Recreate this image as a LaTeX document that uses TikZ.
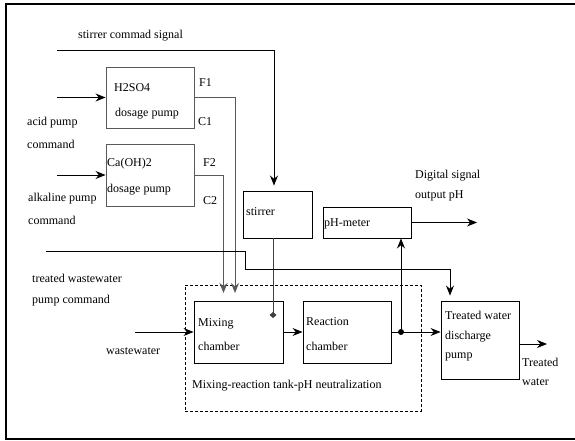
\documentclass[tikz,border=0pt]{standalone}
\usepackage{fontspec}
\setmainfont{Liberation Serif}
\usetikzlibrary{arrows.meta}
\tikzset{
  box/.style={draw=black, line width=0.9pt, inner sep=0pt},
  gbox/.style={draw=black!65, line width=0.9pt, inner sep=0pt},
  lbl/.style={anchor=base west, inner sep=0pt, font=\fontsize{12}{14}\selectfont},
  arr/.style={line width=0.9pt, -{Stealth[length=10pt,width=8pt]}},
  garr/.style={line width=0.9pt, draw=black!65, -{Stealth[length=10pt,width=8pt]}},
  dline/.style={line width=0.9pt, draw=black!75, -{Diamond[length=6pt,width=7pt]}},
}
\begin{document}
\begin{tikzpicture}[x=1pt,y=-1pt]
\useasboundingbox (0,0) rectangle (575,441);
% frame
\draw[line width=1.8pt] (576,4) -- (6,4) -- (6,439) -- (576,439);

% boxes
\node[gbox, minimum width=88pt, minimum height=61pt] (h2) at (150,97.5) {};
\node[gbox, minimum width=88pt, minimum height=62pt] (ca) at (150,175) {};
\node[box, minimum width=69pt, minimum height=47pt] (st) at (277.5,214.5) {};
\node[box, minimum width=88pt, minimum height=31pt] (ph) at (367,222.5) {};
\node[box, minimum width=89pt, minimum height=62pt] (mx) at (238.5,332) {};
\node[box, minimum width=88pt, minimum height=62pt] (rc) at (347,332) {};
\node[box, minimum width=78pt, minimum height=78pt] (dp) at (480,340) {};
\node[draw, line width=0.8pt, dash pattern=on 3pt off 2pt, inner sep=0pt,
      minimum width=236pt, minimum height=126pt] (tank) at (303,348) {};

% texts
\node[lbl] (tss) at (78,39) {stirrer commad signal};
\node[lbl] (th1) at (114,92) {H2SO4};
\node[lbl] (th2) at (115,117) {dosage pump};
\node[lbl] (tf1) at (199,87) {F1};
\node[lbl] (tc1) at (198,125) {C1};
\node[lbl] (tac1) at (27,125) {acid pump};
\node[lbl] (tac2) at (27,148) {command};
\node[lbl] (tca1) at (107,166) {Ca(OH)2};
\node[lbl] (tca2) at (107,192) {dosage pump};
\node[lbl] (tf2) at (203,166) {F2};
\node[lbl] (tc2) at (203,204) {C2};
\node[lbl] (tal1) at (28,201) {alkaline pump};
\node[lbl] (tal2) at (28,224) {command};
\node[lbl] (tst) at (246,215) {stirrer};
\node[lbl] (tph) at (324,226) {pH-meter};
\node[lbl] (tdg1) at (415,178) {Digital signal};
\node[lbl] (tdg2) at (415,198) {output pH};
\node[lbl] (ttw1) at (32,282) {treated wastewater};
\node[lbl] (ttw2) at (32,303) {pump command};
\node[lbl] (tww) at (106,354) {wastewater};
\node[lbl] (tmx1) at (198,326) {Mixing};
\node[lbl] (tmx2) at (198,350) {chamber};
\node[lbl] (trc1) at (306,325) {Reaction};
\node[lbl] (trc2) at (306,350) {chamber};
\node[lbl] (ttk) at (192,388) {Mixing-reaction tank-pH neutralization};
\node[lbl] (tdp1) at (445,319) {Treated water};
\node[lbl] (tdp2) at (445,339) {discharge};
\node[lbl] (tdp3) at (445,358) {pump};
\node[lbl] (tout1) at (522,366) {Treated};
\node[lbl] (tout2) at (522,385) {water};

% coordinates
\coordinate (ss) at (57,50);
\coordinate (a0) at (57,97.5);
\coordinate (k0) at (57,175);
\coordinate (f1e) at (235,293);
\coordinate (f2e) at (223.5,293);
\coordinate (sd) at (273,318);
\coordinate (tw0) at (46,251);
\coordinate (tw1) at (245,251);
\coordinate (tw2) at (245,269);
\coordinate (ww) at (135,332);
\coordinate (jn) at (401,332);
\coordinate (po) at (477,222.5);
\coordinate (to) at (547,344);

% connectors
\draw[arr] (ss) -| ([xshift=-3.5pt,yshift=5pt]st.north);
\draw[arr] (a0) -- (h2.west);
\draw[arr] (k0) -- (ca.west);
\draw[garr] (h2.east) -| (f1e);
\draw[garr] (ca.east) -| (f2e);
\draw[dline] ([xshift=-4.5pt]st.south) -- (sd);
\draw[arr] (tw0) -- (tw1) -- (tw2) -| ([xshift=-30pt,yshift=5pt]dp.north);
\draw[arr] (ww) -- (mx.west);
\draw[arr] (mx.east) -- (rc.west);
\draw[arr] (rc.east) -- (rc.east -| dp.west);
\fill (jn) circle (3pt);
\draw[arr] (jn) -- (jn |- ph.south);
\draw[arr] (ph.east) -- (po);
\draw[arr] ([yshift=-4pt]dp.east) -- (to);
\end{tikzpicture}
\end{document}
